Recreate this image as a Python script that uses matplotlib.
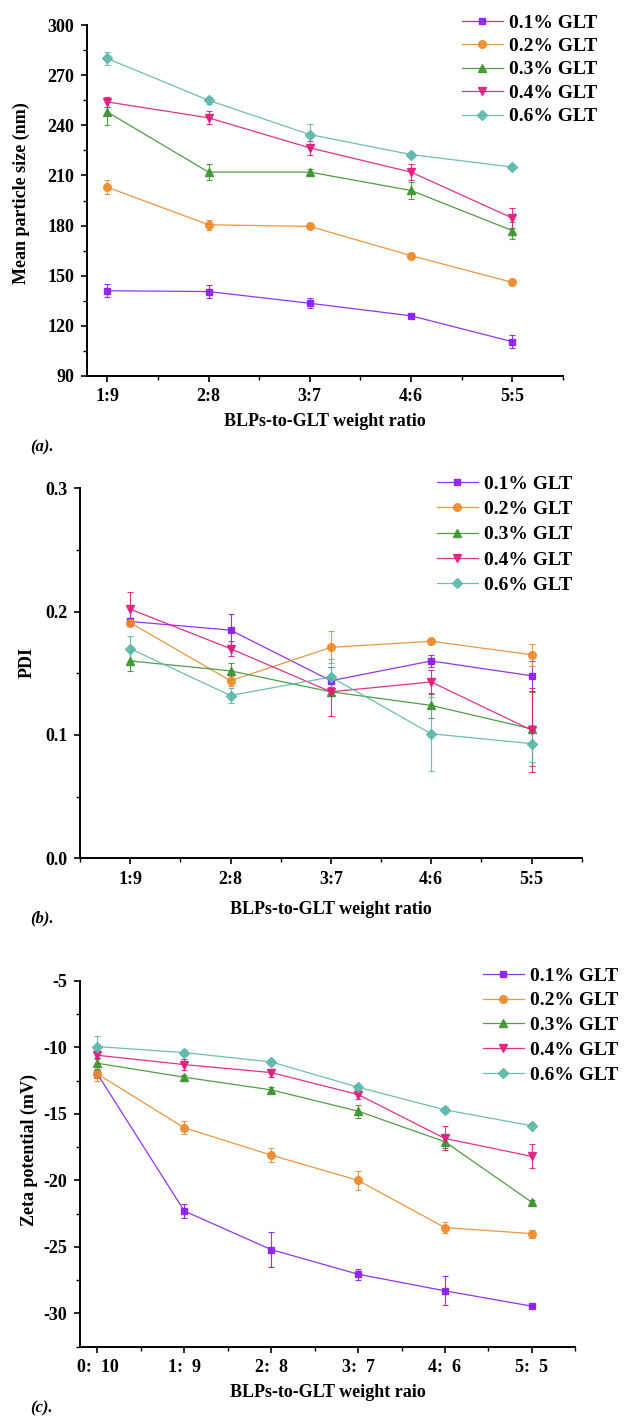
import matplotlib
matplotlib.use("Agg")
import matplotlib.pyplot as plt
from matplotlib.ticker import MultipleLocator

plt.rcParams['font.family'] = ['Liberation Serif', 'DejaVu Serif']
plt.rcParams['font.weight'] = 'bold'
plt.rcParams['axes.unicode_minus'] = False

labels = ['0.1% GLT', '0.2% GLT', '0.3% GLT', '0.4% GLT', '0.6% GLT']
colors = ['#8a1cf5', '#ee8a2a', '#3d932f', '#e31a7c', '#5cb8a9']
markers = ['s', 'o', '^', 'v', 'D']
msizes = [5, 5.5, 6, 6, 5]

# (a) mean particle size
ratio_ab = ['1:9', '2:8', '3:7', '4:6', '5:5']
size_01 = [141, 140.5, 133.5, 126, 110.5]
size_02 = [203, 180.5, 179.5, 162, 146]
size_03 = [248, 212, 212, 201, 177]
size_04 = [254, 244.5, 226.5, 212, 184.5]
size_06 = [280, 255, 234.5, 222.5, 215]
size_err_01 = [4, 4, 3, 1, 4]
size_err_02 = [4, 3, 1, 1, 1]
size_err_03 = [8, 5, 2, 5, 5]
size_err_04 = [3, 4, 4, 5, 6]
size_err_06 = [4, 2, 6, 1.5, 1]

# (b) PDI
pdi_01 = [0.192, 0.185, 0.144, 0.160, 0.148]
pdi_02 = [0.191, 0.144, 0.171, 0.176, 0.165]
pdi_03 = [0.160, 0.152, 0.135, 0.124, 0.105]
pdi_04 = [0.202, 0.170, 0.135, 0.143, 0.104]
pdi_06 = [0.170, 0.132, 0.147, 0.101, 0.093]
pdi_err_01 = [0.003, 0.013, 0.005, 0.005, 0.012]
pdi_err_02 = [0.003, 0.004, 0.013, 0.002, 0.009]
pdi_err_03 = [0.008, 0.006, 0.003, 0.010, 0.030]
pdi_err_04 = [0.014, 0.006, 0.020, 0.010, 0.034]
pdi_err_06 = [0.010, 0.006, 0.015, 0.030, 0.015]

# (c) zeta potential
ratio_c = ['0:  10', '1:  9', '2:  8', '3:  7', '4:  6', '5:  5']
zeta_01 = [-12.0, -22.3, -25.2, -27.05, -28.3, -29.45]
zeta_02 = [-12.0, -16.05, -18.1, -20.0, -23.55, -24.0]
zeta_03 = [-11.2, -12.25, -13.2, -14.8, -17.1, -21.65]
zeta_04 = [-10.6, -11.3, -11.9, -13.55, -16.85, -18.2]
zeta_06 = [-9.95, -10.4, -11.1, -13.0, -14.7, -15.9]
zeta_err_01 = [0.3, 0.5, 1.3, 0.4, 1.1, 0.1]
zeta_err_02 = [0.5, 0.5, 0.5, 0.7, 0.4, 0.3]
zeta_err_03 = [0.4, 0.2, 0.2, 0.5, 0.5, 0.2]
zeta_err_04 = [0.3, 0.4, 0.3, 0.3, 0.9, 0.9]
zeta_err_06 = [0.8, 0.2, 0.2, 0.2, 0.2, 0.2]

fig = plt.figure(figsize=(6.24, 14.16), dpi=100)
ax_a = fig.add_axes([0.1394, 0.7345, 0.7628, 0.2478])
ax_b = fig.add_axes([0.1282, 0.3938, 0.8040, 0.2614])
ax_c = fig.add_axes([0.1282, 0.0489, 0.7938, 0.2585])


def draw(ax, xs, series, errs):
    lines = []
    for i in range(5):
        cont = ax.errorbar(xs, series[i], yerr=errs[i], color=colors[i], marker=markers[i],
                           markersize=msizes[i], linewidth=0.9, elinewidth=0.8, capsize=2.5,
                           capthick=0.8, ecolor=colors[i], label=labels[i], alpha=0.9)
        lines.append(cont[0])
    return lines


def style(ax):
    for s in ['top', 'right']:
        ax.spines[s].set_visible(False)
    for s in ['left', 'bottom']:
        ax.spines[s].set_linewidth(1.4)
    ax.tick_params(which='major', direction='out', length=4, width=1.2, labelsize=13, pad=5)
    ax.tick_params(which='minor', direction='out', length=3, width=1.0)
    for t in ax.get_xticklabels() + ax.get_yticklabels():
        t.set_fontweight('bold')


x_ab = list(range(1, len(ratio_ab) + 1))
x_c = list(range(len(ratio_c)))

h_a = draw(ax_a, x_ab, [size_01, size_02, size_03, size_04, size_06],
           [size_err_01, size_err_02, size_err_03, size_err_04, size_err_06])
ax_a.set_xlim(0.8, 5.5)
ax_a.set_ylim(90, 300)
ax_a.set_xticks(x_ab)
ax_a.set_xticklabels(ratio_ab)
ax_a.xaxis.set_minor_locator(MultipleLocator(0.5))
ax_a.yaxis.set_major_locator(MultipleLocator(30))
ax_a.yaxis.set_minor_locator(MultipleLocator(15))
style(ax_a)
ax_a.set_xlabel('BLPs-to-GLT weight ratio', fontsize=13, fontweight='bold')
ax_a.set_ylabel('Mean particle size (nm)', fontsize=13, fontweight='bold')
ax_a.xaxis.set_label_coords(0.5, -46 / 351)
ax_a.xaxis.label.set_va('center')
ax_a.yaxis.set_label_coords(-0.137, 0.52)
ax_a.yaxis.label.set_va('center')

h_b = draw(ax_b, x_ab, [pdi_01, pdi_02, pdi_03, pdi_04, pdi_06],
           [pdi_err_01, pdi_err_02, pdi_err_03, pdi_err_04, pdi_err_06])
ax_b.set_xlim(0.5, 5.5)
ax_b.set_ylim(0, 0.3)
ax_b.set_xticks(x_ab)
ax_b.set_xticklabels(ratio_ab)
ax_b.xaxis.set_minor_locator(MultipleLocator(0.5))
ax_b.yaxis.set_major_locator(MultipleLocator(0.1))
ax_b.yaxis.set_minor_locator(MultipleLocator(0.05))
style(ax_b)
ax_b.set_xlabel('BLPs-to-GLT weight ratio', fontsize=13, fontweight='bold')
ax_b.set_ylabel('PDI', fontsize=13, fontweight='bold')
ax_b.xaxis.set_label_coords(0.5, -51 / 370)
ax_b.xaxis.label.set_va('center')
ax_b.yaxis.set_label_coords(-0.106, 0.53)
ax_b.yaxis.label.set_va('center')

h_c = draw(ax_c, x_c, [zeta_01, zeta_02, zeta_03, zeta_04, zeta_06],
           [zeta_err_01, zeta_err_02, zeta_err_03, zeta_err_04, zeta_err_06])
ax_c.set_xlim(-0.2, 5.5)
ax_c.set_ylim(-32.5, -5)
ax_c.set_xticks(x_c)
ax_c.set_xticklabels(ratio_c)
ax_c.xaxis.set_minor_locator(MultipleLocator(0.5))
ax_c.yaxis.set_major_locator(MultipleLocator(5))
ax_c.yaxis.set_minor_locator(MultipleLocator(2.5))
style(ax_c)
ax_c.set_xlabel('BLPs-to-GLT weight raio', fontsize=13, fontweight='bold')
ax_c.set_ylabel('Zeta potential (mV)', fontsize=13, fontweight='bold')
ax_c.xaxis.set_label_coords(0.5, -46 / 366)
ax_c.xaxis.label.set_va('center')
ax_c.yaxis.set_label_coords(-0.103, 0.537)
ax_c.yaxis.label.set_va('center')

leg_kw = dict(loc='upper left', bbox_transform=fig.transFigure, frameon=False,
              borderpad=0, borderaxespad=0, handlelength=2.1, handletextpad=0.3,
              prop={'family': 'Liberation Serif', 'weight': 'bold', 'size': 14})
ax_a.legend(h_a, labels, bbox_to_anchor=(462 / 624, 1 - 14 / 1416), labelspacing=0.30, **leg_kw)
ax_b.legend(h_b, labels, bbox_to_anchor=(437 / 624, 1 - 475 / 1416), labelspacing=0.40, **leg_kw)
ax_c.legend(h_c, labels, bbox_to_anchor=(483 / 624, 1 - 967 / 1416), labelspacing=0.37, **leg_kw)

fig.text(30 / 624, 1 - 447 / 1416, '(a).', fontsize=12, fontweight='bold', style='italic', va='center')
fig.text(30 / 624, 1 - 918 / 1416, '(b).', fontsize=12, fontweight='bold', style='italic', va='center')
fig.text(30 / 624, 1 - 1408 / 1416, '(c).', fontsize=12, fontweight='bold', style='italic', va='center')

fig.savefig('out.png', dpi=100)
